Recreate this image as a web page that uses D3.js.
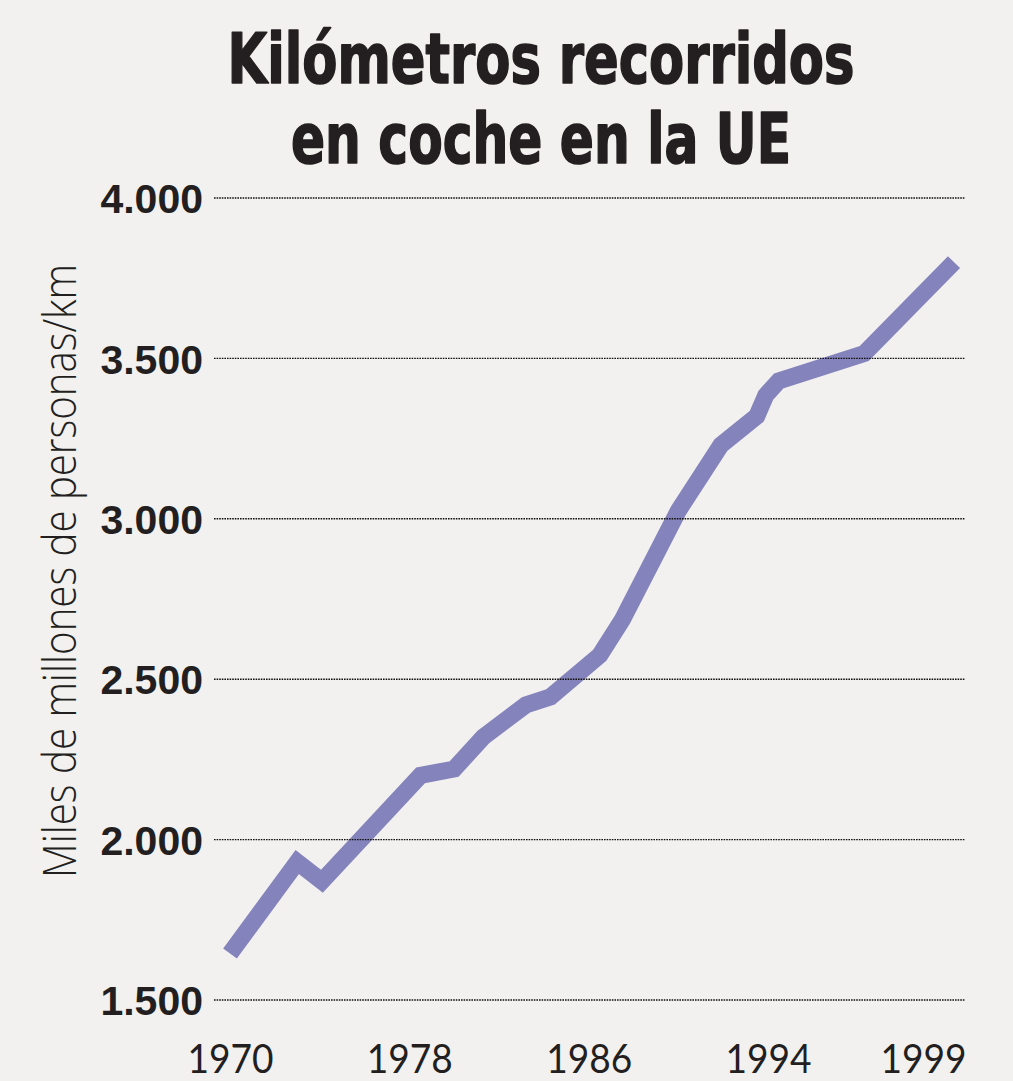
<!DOCTYPE html>
<html>
<head>
<meta charset="utf-8">
<script src="https://cdn.jsdelivr.net/npm/d3@7"></script>
<style>
  html, body { margin: 0; padding: 0; background: #f2f1ef; }
  svg { display: block; }
</style>
</head>
<body>
<script>
// ---- data ----
const titleLines = ["Kilómetros recorridos", "en coche en la UE"];
const yAxisTitle = "Miles de millones de personas/km";
const years  = [1970, 1973, 1974.1, 1978.5, 1980, 1981.3, 1983.2, 1984.3, 1986.5, 1987.5, 1990, 1991.9, 1993.5, 1993.9, 1994.35, 1997.1, 2000];
const values = [1645, 1930, 1870, 2200, 2220, 2320, 2420, 2445, 2575, 2685, 3025, 3230, 3320, 3385, 3430, 3515, 3800];
const yTicks = [1500, 2000, 2500, 3000, 3500, 4000];
const xTickYears  = [1970, 1978, 1986, 1994, 1999];
const xTickLabels = ["1970", "1978", "1986", "1994", "1999"];

const W = 1013, H = 1081;
const svg = d3.select("body").append("svg").attr("width", W).attr("height", H);
svg.append("rect").attr("width", W).attr("height", H).attr("fill", "#f2f1ef");

// scales (the printed x-axis is not uniform: last label stretched)
const x = d3.scaleLinear().domain([1970, 1994, 1999]).range([230, 768, 923]);
const y = d3.scaleLinear().domain([1500, 4000]).range([1000, 198]);

const fmt = d => d3.format(",")(d).replace(",", ".");

// title
const title = svg.append("g");
const titleBase = [83, 163];
const titleLen = [627, 500];
titleLines.forEach((t, i) => {
  title.append("text")
    .attr("x", 541).attr("y", titleBase[i])
    .attr("text-anchor", "middle")
    .attr("textLength", titleLen[i])
    .attr("lengthAdjust", "spacingAndGlyphs")
    .style("font-family", "'Liberation Sans Narrow','DejaVu Sans Condensed',Roboto,sans-serif")
    .style("font-weight", 700)
    .style("font-size", "70px")
    .attr("fill", "#231f20")
    .attr("stroke", "#231f20")
    .attr("stroke-width", 1.6)
    .attr("stroke-linejoin", "round")
    .text(t);
});

// line
const line = d3.line().x((d, i) => x(years[i])).y(d => y(d));
svg.append("path")
  .datum(values)
  .attr("d", line)
  .attr("fill", "none")
  .attr("stroke", "#8583bb")
  .attr("stroke-width", 17)
  .attr("stroke-linejoin", "miter")
  .attr("stroke-miterlimit", 10)
  .attr("stroke-linecap", "butt");

// gridlines + y axis labels
const yAxis = d3.axisLeft(y).tickValues(yTicks).tickSize(0).tickFormat(fmt);
const gy = svg.append("g").attr("transform", "translate(203,0)").call(yAxis);
gy.select(".domain").remove();
gy.selectAll(".tick text")
  .attr("x", 0).attr("dy", "0.36em")
  .style("font-family", "'Liberation Sans',Arial,sans-serif")
  .style("font-weight", 700)
  .style("font-size", "41px")
  .attr("fill", "#231f20");

svg.append("g").selectAll("line")
  .data(yTicks).join("line")
  .attr("x1", 214).attr("x2", 965)
  .attr("y1", d => y(d)).attr("y2", d => y(d))
  .attr("stroke", "#111")
  .attr("stroke-width", 1.4)
  .attr("stroke-dasharray", "1.6,1");

// x axis labels
const xAxis = d3.axisBottom(x).tickValues(xTickYears).tickSize(0)
  .tickFormat((d, i) => xTickLabels[i]);
const gx = svg.append("g").attr("transform", "translate(0,1073)").call(xAxis);
gx.select(".domain").remove();
gx.selectAll(".tick text")
  .attr("y", 0).attr("dy", 0)
  .attr("textLength", 86)
  .attr("lengthAdjust", "spacingAndGlyphs")
  .style("font-family", "Lato,'Open Sans',sans-serif")
  .style("font-weight", 400)
  .style("font-size", "40px")
  .attr("fill", "#231f20");

// y axis title
svg.append("text")
  .attr("transform", "translate(76,878) rotate(-90)")
  .attr("text-anchor", "start")
  .attr("textLength", 614)
  .attr("lengthAdjust", "spacingAndGlyphs")
  .style("font-family", "'Open Sans',Lato,sans-serif")
  .style("font-weight", 300)
  .style("font-size", "46px")
  .attr("fill", "#231f20")
  .text(yAxisTitle);
</script>
</body>
</html>
